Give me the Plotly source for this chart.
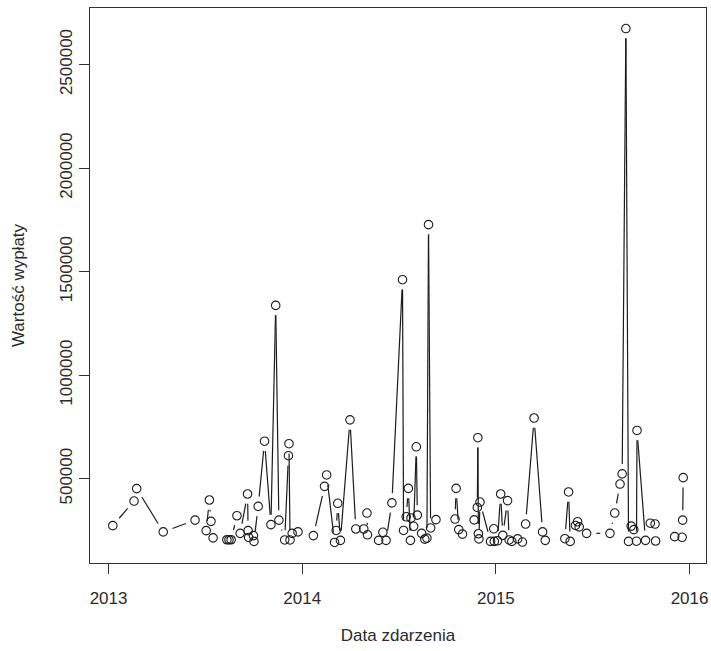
import numpy as np
import pandas as pd
import plotly.graph_objects as go

# Claim dates and payout amounts (Data zdarzenia / Wartość wypłaty)
dates = [
    "2013-01-09", "2013-02-18", "2013-02-23", "2013-04-14", "2013-06-13",
    "2013-07-04", "2013-07-10", "2013-07-13", "2013-07-17", "2013-08-12",
    "2013-08-16", "2013-08-20", "2013-08-31", "2013-09-06", "2013-09-20",
    "2013-09-21", "2013-09-22", "2013-10-01", "2013-10-02", "2013-10-10",
    "2013-10-22", "2013-11-03", "2013-11-12", "2013-11-18", "2013-11-29",
    "2013-12-06", "2013-12-07", "2013-12-09", "2013-12-13", "2013-12-24",
    "2014-01-22", "2014-02-12", "2014-02-16", "2014-03-03", "2014-03-06",
    "2014-03-09", "2014-03-14", "2014-04-01", "2014-04-12", "2014-04-27",
    "2014-05-03", "2014-05-04", "2014-05-25", "2014-06-02", "2014-06-08",
    "2014-06-19", "2014-07-09", "2014-07-11", "2014-07-16", "2014-07-20",
    "2014-07-24", "2014-07-25", "2014-07-30", "2014-08-04", "2014-08-06",
    "2014-08-14", "2014-08-20", "2014-08-24", "2014-08-27", "2014-08-31",
    "2014-09-10", "2014-10-16", "2014-10-18", "2014-10-23", "2014-10-30",
    "2014-11-21", "2014-11-27", "2014-11-28", "2014-11-29", "2014-11-30",
    "2014-12-02", "2014-12-22", "2014-12-28", "2014-12-29",
    "2015-01-04", "2015-01-10", "2015-01-14", "2015-01-23", "2015-01-26",
    "2015-01-31", "2015-02-11", "2015-02-20", "2015-02-26", "2015-03-14",
    "2015-03-30", "2015-04-04", "2015-05-11", "2015-05-18", "2015-05-21",
    "2015-05-31", "2015-06-04", "2015-06-07", "2015-06-21", "2015-08-04",
    "2015-08-13", "2015-08-23", "2015-08-27", "2015-09-03", "2015-09-08",
    "2015-09-13", "2015-09-18", "2015-09-23", "2015-09-24", "2015-10-10",
    "2015-10-19", "2015-10-28", "2015-10-29", "2015-12-04", "2015-12-18",
    "2015-12-19", "2015-12-20",
]

payouts = [
    273000, 392000, 452000, 243000, 300000,
    249000, 397000, 294000, 214000, 205000,
    205000, 205000, 321000, 236000, 426000,
    249000, 216000, 225000, 197000, 366000,
    681000, 278000, 1337000, 300000, 204000,
    611000, 669000, 204000, 236000, 243000,
    225000, 463000, 518000, 192000, 250000,
    381000, 202000, 784000, 257000, 257000,
    334000, 229000, 202000, 241000, 202000,
    383000, 1461000, 250000, 316000, 453000,
    202000, 310000, 270000, 654000, 324000,
    236000, 208000, 213000, 1727000, 262000,
    302000, 305000, 453000, 254000, 232000,
    301000, 361000, 698000, 234000, 209000,
    387000, 197000, 258000, 197000,
    200000, 426000, 226000, 394000, 204000,
    197000, 209000, 194000, 281000, 793000,
    243000, 202000, 210000, 436000, 197000,
    274000, 292000, 267000, 236000, 236000,
    334000, 474000, 523000, 2674000, 197000,
    271000, 254000, 198000, 733000, 202000,
    285000, 281000, 199000, 220000, 217000,
    300000, 505000,
]

year_ticks = ["2013-01-01", "2014-01-01", "2015-01-01", "2016-01-01"]
year_labels = ["2013", "2014", "2015", "2016"]
value_ticks = [500000, 1000000, 1500000, 2000000, 2500000]
value_labels = ["500000", "1000000", "1500000", "2000000", "2500000"]

# Figure geometry
W, H = 711, 651
ML, MR, MT, MB = 90, 3, 8, 88
PW, PH = W - ML - MR, H - MT - MB
FONT = "Liberation Sans, Arial, sans-serif"
INK = "#1c1c1c"
TEXT = "#2a2a2a"
GAP_PX = 9.8  # blank space left around each point on the connecting line

t = pd.to_datetime(dates)
tnum = t.astype("int64").to_numpy().astype(float)
v = np.asarray(payouts, dtype=float)

# Axis ranges padded by 4% of the data span on each side
xspan = tnum.max() - tnum.min()
x0, x1 = tnum.min() - 0.04 * xspan, tnum.max() + 0.04 * xspan
yspan = v.max() - v.min()
y0, y1 = v.min() - 0.04 * yspan, v.max() + 0.04 * yspan

# Broken connecting lines: each segment is shortened near its end points
px = (tnum - x0) / (x1 - x0) * PW
py = (v - y0) / (y1 - y0) * PH
seg_x, seg_y = [], []
for i in range(len(v) - 1):
    dx, dy = px[i + 1] - px[i], py[i + 1] - py[i]
    d = np.hypot(dx, dy)
    if d <= 2 * GAP_PX:
        continue
    ux, uy = dx / d, dy / d
    for sx, sy in ((px[i] + GAP_PX * ux, py[i] + GAP_PX * uy),
                   (px[i + 1] - GAP_PX * ux, py[i + 1] - GAP_PX * uy)):
        seg_x.append(pd.Timestamp(int(x0 + sx / PW * (x1 - x0))))
        seg_y.append(y0 + sy / PH * (y1 - y0))
    seg_x.append(None)
    seg_y.append(None)

fig = go.Figure()
fig.add_trace(go.Scatter(
    x=seg_x, y=seg_y, mode="lines",
    line=dict(color=INK, width=1.2),
    hoverinfo="skip", showlegend=False,
))
fig.add_trace(go.Scatter(
    x=t, y=v, mode="markers",
    marker=dict(symbol="circle-open", size=8.5, color=INK,
                line=dict(color=INK, width=1.1)),
    showlegend=False,
))

axis_common = dict(
    showgrid=False, zeroline=False,
    showline=True, mirror=True, linecolor="#333333", linewidth=1.4,
    ticks="outside", ticklen=10, tickwidth=1.4, tickcolor="#333333",
    tickfont=dict(family=FONT, size=17, color=TEXT),
)

fig.update_layout(
    width=W, height=H, autosize=False,
    margin=dict(l=ML, r=MR, t=MT, b=MB),
    paper_bgcolor="white", plot_bgcolor="white",
    font=dict(family=FONT, size=17, color=TEXT),
    xaxis=dict(
        type="date",
        range=[pd.Timestamp(int(x0)), pd.Timestamp(int(x1))],
        tickmode="array", tickvals=year_ticks, ticktext=year_labels,
        ticklabelstandoff=9,
        title=dict(text="Data zdarzenia", standoff=22,
                   font=dict(family=FONT, size=17, color=TEXT)),
        **axis_common,
    ),
    yaxis=dict(
        range=[y0, y1],
        tickmode="array", tickvals=value_ticks, ticktext=value_labels,
        tickangle=-90,
        title=dict(text="Wartość wypłaty", standoff=28,
                   font=dict(family=FONT, size=17, color=TEXT)),
        **axis_common,
    ),
)

fig.write_html("out.html")
